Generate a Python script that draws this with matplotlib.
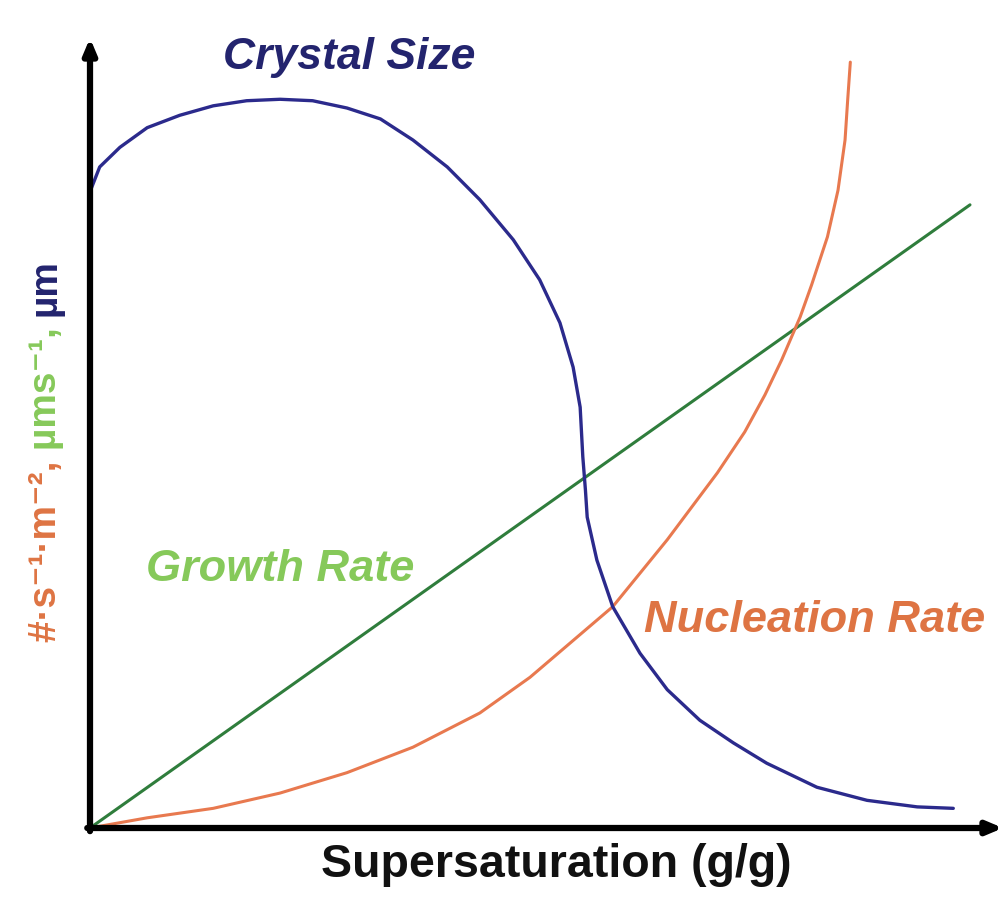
import matplotlib
matplotlib.use("Agg")
import numpy as np
import matplotlib.pyplot as plt

# Curvas (x = sobresaturación normalizada, y = escala relativa)
crystal_x = [0.000, 0.011, 0.034, 0.065, 0.102, 0.140, 0.178, 0.216, 0.253, 0.292,
             0.330, 0.367, 0.406, 0.443, 0.481, 0.511, 0.534, 0.549, 0.557, 0.560,
             0.563, 0.565, 0.576, 0.594, 0.625, 0.656, 0.693, 0.731, 0.769, 0.826,
             0.883, 0.940, 0.981]
crystal_y = [0.874, 0.908, 0.935, 0.962, 0.979, 0.992, 0.999, 1.001, 0.999, 0.989,
             0.974, 0.945, 0.908, 0.863, 0.808, 0.753, 0.694, 0.633, 0.578, 0.510,
             0.464, 0.427, 0.368, 0.304, 0.240, 0.190, 0.148, 0.117, 0.089, 0.056,
             0.038, 0.029, 0.027]

nucl_x = [0.000, 0.065, 0.140, 0.216, 0.292, 0.367, 0.443, 0.500, 0.594, 0.656,
          0.713, 0.744, 0.767, 0.786, 0.807, 0.820, 0.838, 0.850, 0.858, 0.861, 0.864]
nucl_y = [0.000, 0.014, 0.027, 0.048, 0.076, 0.111, 0.158, 0.207, 0.304, 0.396,
          0.488, 0.544, 0.595, 0.643, 0.702, 0.746, 0.812, 0.876, 0.945, 1.000, 1.052]

growth_x = [0.0, 1.0]
growth_y = [0.0, 0.856]

labels = {"crystal": "Crystal Size", "growth": "Growth Rate", "nucl": "Nucleation Rate"}
xlabel = "Supersaturation (g/g)"
ylabel_parts = ["#·s⁻¹·m⁻², ", "µms⁻¹, ", "µm"]

c_blue = "#2b2a8c"
c_green = "#2f7d3c"
c_orange = "#e8794f"
c_green_txt = "#86c95a"
c_orange_txt = "#de7443"
c_blue_txt = "#23246e"

fam = ["Liberation Sans", "DejaVu Sans"]

fig = plt.figure(figsize=(10.05, 9), dpi=100)
ax = fig.add_axes([90 / 1005, 72 / 900, 913 / 1005, 790 / 900])
ax.set_xlim(0, 913 / 880)
ax.set_ylim(0, 790 / 728)
ax.axis("off")

ax.plot(growth_x, growth_y, color=c_green, lw=2.2, solid_capstyle="round")
ax.plot(nucl_x, nucl_y, color=c_orange, lw=2.2, solid_capstyle="round",
        solid_joinstyle="round")
ax.plot(crystal_x, crystal_y, color=c_blue, lw=2.4, solid_capstyle="round",
        solid_joinstyle="round")

# ejes con flecha
arrow = dict(arrowstyle="-|>,head_length=0.9,head_width=0.38", lw=4.5,
             color="black", shrinkA=0, shrinkB=0)
ax.annotate("", xy=(1.0, 0.0), xytext=(-0.003, 0.0), xycoords="axes fraction",
            arrowprops=arrow, annotation_clip=False)
ax.annotate("", xy=(0.0, 1.0), xytext=(0.0, -0.004), xycoords="axes fraction",
            arrowprops=arrow, annotation_clip=False)

ax.text(0.295, 1.058, labels["crystal"], color=c_blue_txt, fontsize=32,
        fontweight="bold", style="italic", family=fam, ha="center", va="center")
ax.text(0.216, 0.355, labels["growth"], color=c_green_txt, fontsize=32.5,
        fontweight="bold", style="italic", family=fam, ha="center", va="center")
ax.text(0.824, 0.285, labels["nucl"], color=c_orange_txt, fontsize=32.5,
        fontweight="bold", style="italic", family=fam, ha="center", va="center")

fig.text(556 / 1005, 1 - 865 / 900, xlabel, fontsize=33.5, fontweight="bold",
         family=fam, ha="center", va="center", color="#111111")

# etiqueta del eje y en tres colores, de abajo arriba
fig.canvas.draw()
renderer = fig.canvas.get_renderer()
y0 = 1 - 642 / 900
for txt, col in zip(ylabel_parts, [c_orange_txt, c_green_txt, c_blue_txt]):
    t = fig.text(46 / 1005, y0, txt, rotation=90, color=col, fontsize=28,
                 fontweight="bold", family=fam, ha="center", va="bottom")
    bb = t.get_window_extent(renderer)
    y0 = y0 + bb.height / fig.bbox.height

fig.savefig("out.png", dpi=100)
